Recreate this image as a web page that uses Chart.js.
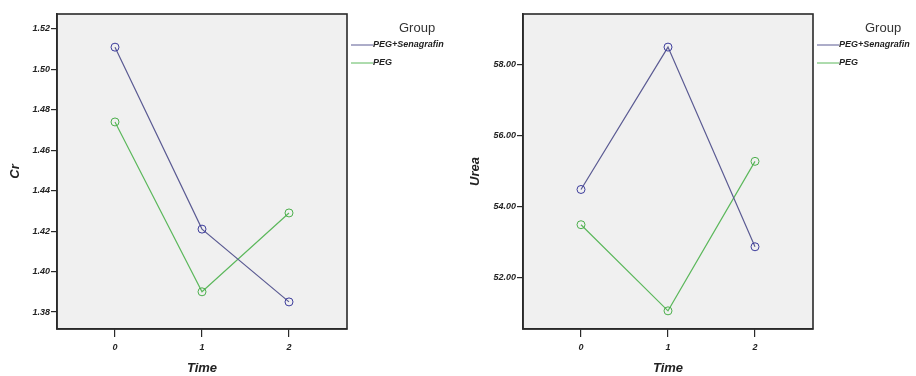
<!DOCTYPE html>
<html>
<head>
<meta charset="utf-8">
<script src="https://cdn.jsdelivr.net/npm/chart.js@4.4.0/dist/chart.umd.min.js"></script>
<style>
  body { margin: 0; background: #fff; }
  .wrap { position: relative; width: 916px; height: 376px; }
  canvas { position: absolute; top: 0; }
  #crChart { left: 0; }
  #ureaChart { left: 458px; }
</style>
</head>
<body>
<div class="wrap">
  <canvas id="crChart" width="458" height="376"></canvas>
  <canvas id="ureaChart" width="458" height="376"></canvas>
</div>
<script>
// values
const timePoints = [0, 1, 2];
const groupNames = ['PEG+Senagrafin', 'PEG'];
const crSenagrafin = [1.511, 1.421, 1.385];
const crPeg = [1.474, 1.390, 1.429];
const ureaSenagrafin = [54.48, 58.48, 52.87];
const ureaPeg = [53.49, 51.07, 55.27];
const crTicks = [1.38, 1.40, 1.42, 1.44, 1.46, 1.48, 1.50, 1.52];
const ureaTicks = [52, 54, 56, 58];

const blueLine = '#5b5b93';
const greenLine = '#5cb85c';
const axisColor = '#2a2a2a';
const tickFont = { family: 'Liberation Sans', size: 9, style: 'italic', weight: 'bold' };
const titleFont = { family: 'Liberation Sans', size: 13, style: 'italic', weight: 'bold' };

const plotFrame = {
    id: 'plotFrame',
    beforeDraw(chart) {
        const a = chart.chartArea;
        const c = chart.ctx;
        c.save();
        c.fillStyle = '#f0f0f0';
        c.fillRect(a.left, a.top, a.right - a.left, a.bottom - a.top);
        c.restore();
    },
    afterDraw(chart) {
        const a = chart.chartArea;
        const c = chart.ctx;
        c.save();
        c.strokeStyle = axisColor;
        c.lineWidth = 1.6;
        c.strokeRect(a.left, a.top, a.right - a.left, a.bottom - a.top);

        // SPSS style legend at the right of the frame
        c.fillStyle = '#333';
        c.font = '13px "Liberation Sans Narrow", "Liberation Sans"';
        c.textBaseline = 'middle';
        c.fillText('Group', a.right + 52, 28);
        c.font = 'italic bold 9px "Liberation Sans"';
        chart.data.datasets.forEach((ds, i) => {
            const y = 45 + i * 18;
            c.strokeStyle = ds.borderColor;
            c.lineWidth = 1;
            c.beginPath();
            c.moveTo(a.right + 4, y);
            c.lineTo(a.right + 26, y);
            c.stroke();
            c.fillStyle = '#222';
            c.fillText(ds.label, a.right + 26, y);
        });
        c.restore();
    }
};

function makeChart(id, yTitle, senValues, pegValues, yMin, yMax, yTicks, yAxisWidth, rightPad, titlePad) {
    const ctx = document.getElementById(id).getContext('2d');
    return new Chart(ctx, {
        type: 'line',
        data: {
            datasets: [
                {
                    label: groupNames[0],
                    data: timePoints.map((t, i) => ({ x: t, y: senValues[i] })),
                    borderColor: blueLine,
                    pointBorderColor: '#3d3d9c',
                    backgroundColor: 'transparent',
                    borderWidth: 1.2,
                    pointRadius: 4,
                    pointBorderWidth: 1,
                    tension: 0
                },
                {
                    label: groupNames[1],
                    data: timePoints.map((t, i) => ({ x: t, y: pegValues[i] })),
                    borderColor: greenLine,
                    pointBorderColor: '#4caf4c',
                    backgroundColor: 'transparent',
                    borderWidth: 1.2,
                    pointRadius: 4,
                    pointBorderWidth: 1,
                    tension: 0
                }
            ]
        },
        options: {
            responsive: false,
            animation: false,
            layout: { padding: { top: 14, right: rightPad, left: 0, bottom: 0 } },
            plugins: { legend: { display: false }, tooltip: { enabled: false } },
            scales: {
                x: {
                    type: 'linear',
                    min: -2 / 3,
                    max: 8 / 3,
                    afterBuildTicks(axis) {
                        axis.ticks = timePoints.map(v => ({ value: v }));
                    },
                    afterFit(axis) { axis.height = 47; },
                    grid: { drawOnChartArea: false, drawTicks: true, tickLength: 8, color: axisColor, lineWidth: 1.2 },
                    border: { display: true, color: axisColor, width: 1.6 },
                    ticks: { font: tickFont, color: '#222', padding: 5, maxRotation: 0 },
                    title: { display: true, text: 'Time', font: titleFont, color: '#222', padding: { top: 0, bottom: 0 } }
                },
                y: {
                    min: yMin,
                    max: yMax,
                    afterBuildTicks(axis) {
                        axis.ticks = yTicks.map(v => ({ value: v }));
                    },
                    afterFit(axis) { axis.width = yAxisWidth; },
                    grid: { drawOnChartArea: false, drawTicks: true, tickLength: 6, color: axisColor, lineWidth: 1.2 },
                    border: { display: true, color: axisColor, width: 1.6 },
                    ticks: { font: tickFont, color: '#222', padding: 1, callback: v => v.toFixed(2) },
                    title: { display: true, text: yTitle, font: titleFont, color: '#222', padding: { top: titlePad, bottom: 0 } }
                }
            }
        },
        plugins: [plotFrame]
    });
}

document.addEventListener('DOMContentLoaded', function() {
    makeChart('crChart', 'Cr', crSenagrafin, crPeg, 1.3716, 1.5274, crTicks, 57, 111, 8);
    makeChart('ureaChart', 'Urea', ureaSenagrafin, ureaPeg, 50.56, 59.41, ureaTicks, 65, 103, 10);
});
</script>
</body>
</html>
